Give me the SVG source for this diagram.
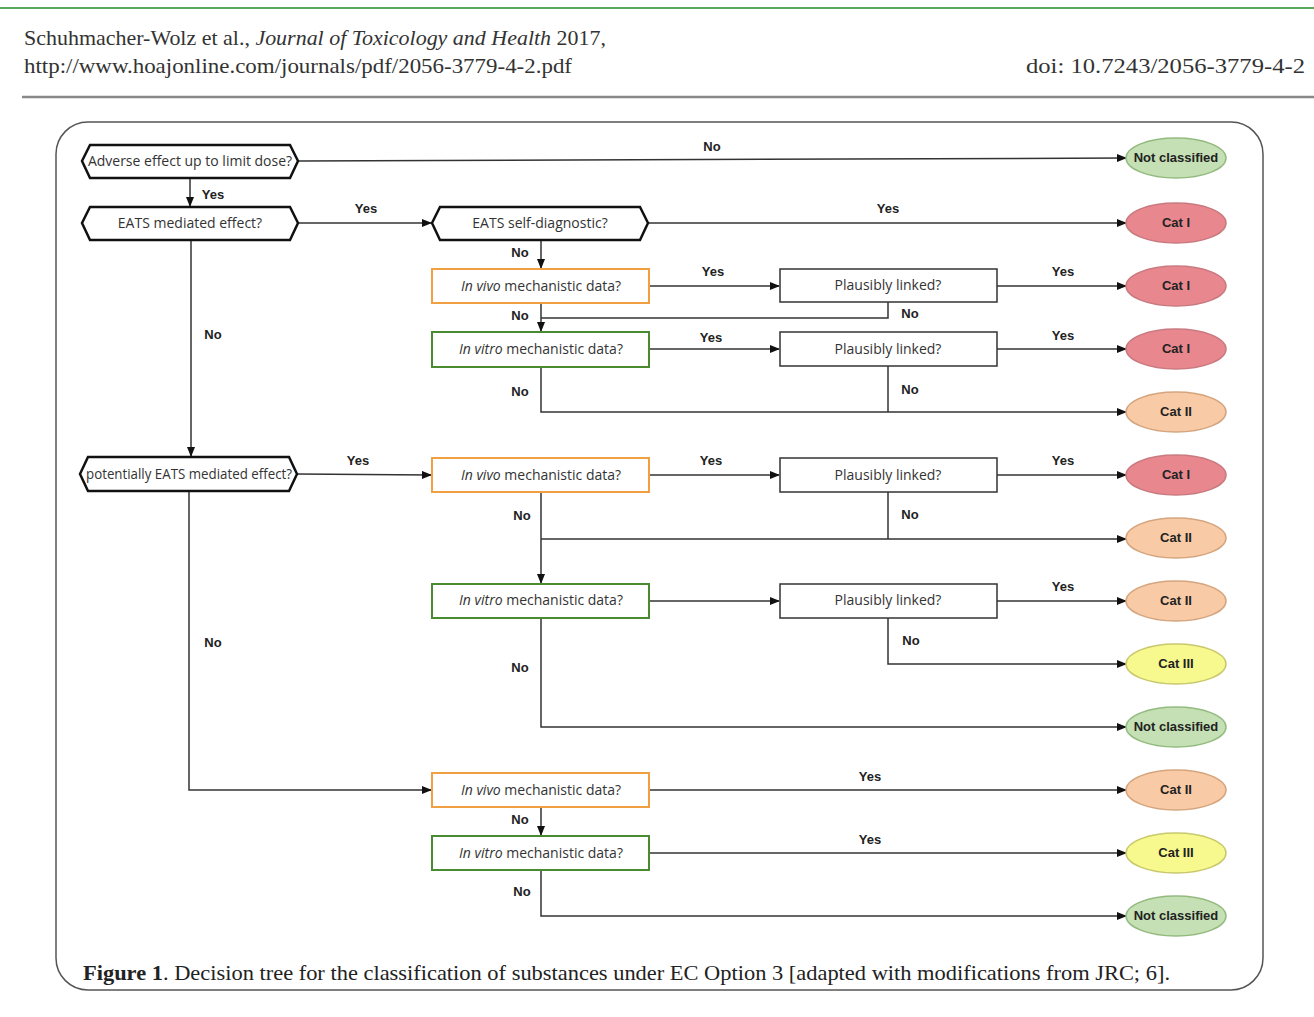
<svg xmlns="http://www.w3.org/2000/svg" width="1314" height="1017" viewBox="0 0 1314 1017">
<style>
.hdr{font-family:"Liberation Serif",serif;font-size:22px;fill:#333}
.cap{font-family:"Liberation Serif",serif;font-size:21px;fill:#222}
.nt{font-family:"Open Sans","Liberation Sans",sans-serif;font-size:14px;fill:#333;text-anchor:middle}
.lb{font-family:"Liberation Sans",sans-serif;font-size:13px;font-weight:bold;fill:#222;text-anchor:middle}
.et{font-family:"Liberation Sans",sans-serif;font-size:13px;font-weight:bold;fill:#222;text-anchor:middle}
.hex{fill:#fff;stroke:#111;stroke-width:2.5}
.box{fill:#fff;stroke:#333;stroke-width:1.5}
.vivo{fill:#fff;stroke:#f0a040;stroke-width:2}
.vitro{fill:#fff;stroke:#4a8a30;stroke-width:2}
.eg{fill:#c5e0b4;stroke:#93bb80;stroke-width:1.5}
.er{fill:#e8878d;stroke:#c97a80;stroke-width:1.5}
.eo{fill:#f8cba6;stroke:#d4a57e;stroke-width:1.5}
.ey{fill:#f7f88e;stroke:#c8c86c;stroke-width:1.5}
.c{fill:none;stroke:#333;stroke-width:1.5}
</style>
<defs>
<marker id="ah" markerWidth="10" markerHeight="8" refX="9" refY="4" orient="auto" markerUnits="userSpaceOnUse">
<path d="M0,0 L10,4 L0,8 z" fill="#111"/>
</marker>
</defs>
<rect width="1314" height="1017" fill="#fff"/>
<g id="header">
<line x1="0" y1="8" x2="1314" y2="8" stroke="#5aaa5a" stroke-width="2"/>
<text class="hdr" x="24" y="45" textLength="582" lengthAdjust="spacingAndGlyphs">Schuhmacher-Wolz et al., <tspan font-style="italic">Journal of Toxicology and Health</tspan> 2017,</text>
<text class="hdr" x="24" y="73" textLength="548" lengthAdjust="spacingAndGlyphs">http://www.hoajonline.com/journals/pdf/2056-3779-4-2.pdf</text>
<text class="hdr" x="1026" y="73" textLength="279" lengthAdjust="spacingAndGlyphs">doi: 10.7243/2056-3779-4-2</text>
<line x1="22" y1="97" x2="1314" y2="97" stroke="#888" stroke-width="2.5"/>
</g>
<rect id="frame" x="56" y="122" width="1207" height="868" rx="32" fill="none" stroke="#555" stroke-width="1.5"/>

<g id="connectors">
<path class="c" d="M298,161 L1126,158" marker-end="url(#ah)"/>
<path class="c" d="M190,178 L190,206" marker-end="url(#ah)"/>
<path class="c" d="M298,223 L431,223" marker-end="url(#ah)"/>
<path class="c" d="M648,223 L1126,223" marker-end="url(#ah)"/>
<path class="c" d="M541,240 L541,268" marker-end="url(#ah)"/>
<path class="c" d="M649,286 L779,286" marker-end="url(#ah)"/>
<path class="c" d="M997,286 L1126,286" marker-end="url(#ah)"/>
<path class="c" d="M888,302 L888,318 L541,318"/>
<path class="c" d="M541,303 L541,331" marker-end="url(#ah)"/>
<path class="c" d="M649,349 L779,349" marker-end="url(#ah)"/>
<path class="c" d="M997,349 L1126,349" marker-end="url(#ah)"/>
<path class="c" d="M888,366 L888,412"/>
<path class="c" d="M541,367 L541,412 L1126,412" marker-end="url(#ah)"/>
<path class="c" d="M191,240 L191,456" marker-end="url(#ah)"/>
<path class="c" d="M297,474 L431,475" marker-end="url(#ah)"/>
<path class="c" d="M649,475 L779,475" marker-end="url(#ah)"/>
<path class="c" d="M997,475 L1126,475" marker-end="url(#ah)"/>
<path class="c" d="M888,492 L888,539"/>
<path class="c" d="M541,492 L541,583" marker-end="url(#ah)"/>
<path class="c" d="M541,539 L1126,539" marker-end="url(#ah)"/>
<path class="c" d="M649,601 L779,601" marker-end="url(#ah)"/>
<path class="c" d="M997,601 L1126,601" marker-end="url(#ah)"/>
<path class="c" d="M888,618 L888,664 L1126,664" marker-end="url(#ah)"/>
<path class="c" d="M541,618 L541,727 L1126,727" marker-end="url(#ah)"/>
<path class="c" d="M189,491 L189,790 L431,790" marker-end="url(#ah)"/>
<path class="c" d="M649,790 L1126,790" marker-end="url(#ah)"/>
<path class="c" d="M541,807 L541,835" marker-end="url(#ah)"/>
<path class="c" d="M649,853 L1126,853" marker-end="url(#ah)"/>
<path class="c" d="M541,870 L541,916 L1126,916" marker-end="url(#ah)"/>
</g>

<g id="labels">
<text class="lb" x="712" y="151">No</text>
<text class="lb" x="213" y="199">Yes</text>
<text class="lb" x="366" y="213">Yes</text>
<text class="lb" x="888" y="213">Yes</text>
<text class="lb" x="520" y="257">No</text>
<text class="lb" x="713" y="276">Yes</text>
<text class="lb" x="1063" y="276">Yes</text>
<text class="lb" x="910" y="318">No</text>
<text class="lb" x="520" y="320">No</text>
<text class="lb" x="213" y="339">No</text>
<text class="lb" x="711" y="342">Yes</text>
<text class="lb" x="1063" y="340">Yes</text>
<text class="lb" x="910" y="394">No</text>
<text class="lb" x="520" y="396">No</text>
<text class="lb" x="358" y="465">Yes</text>
<text class="lb" x="711" y="465">Yes</text>
<text class="lb" x="1063" y="465">Yes</text>
<text class="lb" x="522" y="520">No</text>
<text class="lb" x="910" y="519">No</text>
<text class="lb" x="1063" y="591">Yes</text>
<text class="lb" x="911" y="645">No</text>
<text class="lb" x="213" y="647">No</text>
<text class="lb" x="520" y="672">No</text>
<text class="lb" x="870" y="781">Yes</text>
<text class="lb" x="520" y="824">No</text>
<text class="lb" x="870" y="844">Yes</text>
<text class="lb" x="522" y="896">No</text>
</g>

<g id="q-adverse"><polygon class="hex" points="82,161 90,145 290,145 298,161 290,178 90,178"/><text class="nt" x="190" y="166">Adverse effect up to limit dose?</text></g>
<g id="q-eats"><polygon class="hex" points="82,223 90,207 290,207 298,223 290,240 90,240"/><text class="nt" x="190" y="228">EATS mediated effect?</text></g>
<g id="q-selfdiag"><polygon class="hex" points="432,223 440,207 640,207 648,223 640,240 440,240"/><text class="nt" x="540" y="228">EATS self-diagnostic?</text></g>
<g id="q-potential"><polygon class="hex" points="80,474 88,457 289,457 297,474 289,491 88,491"/><text class="nt" x="189" y="479" textLength="206" lengthAdjust="spacingAndGlyphs">potentially EATS mediated effect?</text></g>

<g id="vivo1"><rect class="vivo" x="432" y="269" width="217" height="34"/><text class="nt" x="541" y="291"><tspan font-style="italic">In vivo</tspan> mechanistic data?</text></g>
<g id="vitro1"><rect class="vitro" x="432" y="332" width="217" height="35"/><text class="nt" x="541" y="354"><tspan font-style="italic">In vitro</tspan> mechanistic data?</text></g>
<g id="pl1"><rect class="box" x="780" y="269" width="217" height="33"/><text class="nt" x="888" y="290">Plausibly linked?</text></g>
<g id="pl2"><rect class="box" x="780" y="332" width="217" height="34"/><text class="nt" x="888" y="354">Plausibly linked?</text></g>
<g id="vivo2"><rect class="vivo" x="432" y="458" width="217" height="34"/><text class="nt" x="541" y="480"><tspan font-style="italic">In vivo</tspan> mechanistic data?</text></g>
<g id="pl3"><rect class="box" x="780" y="458" width="217" height="34"/><text class="nt" x="888" y="480">Plausibly linked?</text></g>
<g id="vitro2"><rect class="vitro" x="432" y="584" width="217" height="34"/><text class="nt" x="541" y="605"><tspan font-style="italic">In vitro</tspan> mechanistic data?</text></g>
<g id="pl4"><rect class="box" x="780" y="584" width="217" height="34"/><text class="nt" x="888" y="605">Plausibly linked?</text></g>
<g id="vivo3"><rect class="vivo" x="432" y="773" width="217" height="34"/><text class="nt" x="541" y="795"><tspan font-style="italic">In vivo</tspan> mechanistic data?</text></g>
<g id="vitro3"><rect class="vitro" x="432" y="836" width="217" height="34"/><text class="nt" x="541" y="858"><tspan font-style="italic">In vitro</tspan> mechanistic data?</text></g>

<g id="o1"><ellipse class="eg" cx="1176" cy="158" rx="50" ry="20"/><text class="et" x="1176" y="162">Not classified</text></g>
<g id="o2"><ellipse class="er" cx="1176" cy="223" rx="50" ry="20"/><text class="et" x="1176" y="227">Cat I</text></g>
<g id="o3"><ellipse class="er" cx="1176" cy="286" rx="50" ry="20"/><text class="et" x="1176" y="290">Cat I</text></g>
<g id="o4"><ellipse class="er" cx="1176" cy="349" rx="50" ry="20"/><text class="et" x="1176" y="353">Cat I</text></g>
<g id="o5"><ellipse class="eo" cx="1176" cy="412" rx="50" ry="20"/><text class="et" x="1176" y="416">Cat II</text></g>
<g id="o6"><ellipse class="er" cx="1176" cy="475" rx="50" ry="20"/><text class="et" x="1176" y="479">Cat I</text></g>
<g id="o7"><ellipse class="eo" cx="1176" cy="538" rx="50" ry="20"/><text class="et" x="1176" y="542">Cat II</text></g>
<g id="o8"><ellipse class="eo" cx="1176" cy="601" rx="50" ry="20"/><text class="et" x="1176" y="605">Cat II</text></g>
<g id="o9"><ellipse class="ey" cx="1176" cy="664" rx="50" ry="20"/><text class="et" x="1176" y="668">Cat III</text></g>
<g id="o10"><ellipse class="eg" cx="1176" cy="727" rx="50" ry="20"/><text class="et" x="1176" y="731">Not classified</text></g>
<g id="o11"><ellipse class="eo" cx="1176" cy="790" rx="50" ry="20"/><text class="et" x="1176" y="794">Cat II</text></g>
<g id="o12"><ellipse class="ey" cx="1176" cy="853" rx="50" ry="20"/><text class="et" x="1176" y="857">Cat III</text></g>
<g id="o13"><ellipse class="eg" cx="1176" cy="916" rx="50" ry="20"/><text class="et" x="1176" y="920">Not classified</text></g>

<text class="cap" x="83" y="980" textLength="1087" lengthAdjust="spacingAndGlyphs"><tspan font-weight="bold">Figure 1</tspan>. Decision tree for the classification of substances under EC Option 3 [adapted with modifications from JRC; 6].</text>
</svg>
